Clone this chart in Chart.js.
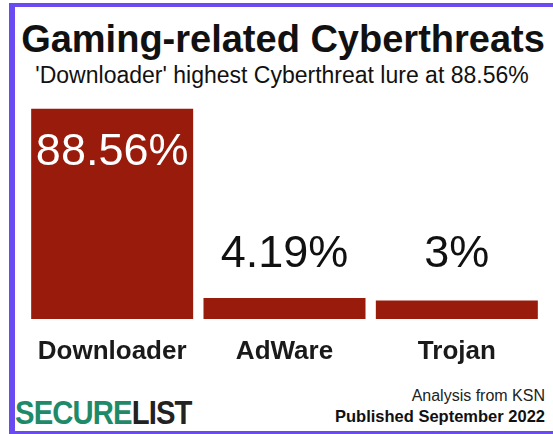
<!DOCTYPE html>
<html lang="en">
<head>
<meta charset="UTF-8">
<title>Gaming-related Cyberthreats</title>
<script src="https://cdn.jsdelivr.net/npm/chart.js"></script>
<style>
  html, body { margin: 0; padding: 0; background: #fff; }
  body { width: 553px; height: 434px; position: relative; overflow: hidden; font-family: 'Liberation Sans', Arial, sans-serif; color: #111; }
  #frame { position: absolute; left: 9px; top: 3px; width: 560px; height: 431px; box-sizing: border-box;
           border-left: 6px solid #6a4bf2; border-top: 4px solid #6a4bf2; border-bottom: 3px solid #6a4bf2; }
  .txt { position: absolute; white-space: nowrap; line-height: 1; }
  #title { left: 0; width: 566px; top: 20px; text-align: center; font-size: 38px; font-weight: bold; }
  #subtitle { left: 0; width: 564px; top: 64px; text-align: center; font-size: 23px; }
  #src { right: 8px; top: 388px; font-size: 16px; color: #222; }
  #pub { right: 8px; top: 408px; font-size: 16.5px; font-weight: bold; color: #111; }
  #logo { left: 15px; top: 395px; font-size: 34px; font-weight: bold; transform: scaleX(0.86); transform-origin: left top; letter-spacing: -1px; }
  #logo .g { color: #1f8a68; }
  #logo .k { color: #222; }
  #chart { position: absolute; left: 0; top: 92px; }
</style>
</head>
<body>
<div id="frame"></div>
<div class="txt" id="title">Gaming-related Cyberthreats</div>
<div class="txt" id="subtitle">'Downloader' highest Cyberthreat lure at 88.56%</div>
<canvas id="chart" width="553" height="287"></canvas>
<div class="txt" id="logo"><span class="g">SECURE</span><span class="k">LIST</span></div>
<div class="txt" id="src">Analysis from KSN</div>
<div class="txt" id="pub">Published September 2022</div>
<script>
// chart data
const categories = ['Downloader', 'AdWare', 'Trojan'];
const shares = [88.56, 4.19, 3];
const valueLabels = ['88.56%', '4.19%', '3%'];

// the original bars sit on a baseline below zero
const axisMin = -5.2;
const axisMax = 96;

const barLabels = {
    id: 'barLabels',
    afterDatasetsDraw(chart) {
        const ctx = chart.ctx;
        const meta = chart.getDatasetMeta(0);
        ctx.save();
        ctx.font = '45px "Liberation Sans", Arial, sans-serif';
        ctx.textAlign = 'center';
        ctx.textBaseline = 'alphabetic';
        meta.data.forEach((bar, i) => {
            const h = bar.base - bar.y;
            if (h > 60) {
                ctx.fillStyle = '#ffffff';
                ctx.fillText(valueLabels[i], bar.x, bar.y + 56);
            } else {
                ctx.fillStyle = '#111111';
                ctx.fillText(valueLabels[i], bar.x, 267 - 92);
            }
        });
        ctx.restore();
    }
};

new Chart(document.getElementById('chart'), {
    type: 'bar',
    data: {
        labels: categories,
        datasets: [{
            data: shares,
            base: axisMin,
            backgroundColor: '#981b0b',
            borderWidth: 0,
            barPercentage: 0.94,
            categoryPercentage: 1
        }]
    },
    options: {
        responsive: false,
        animation: false,
        layout: { padding: { left: 26, right: 10, top: 0, bottom: 0 } },
        plugins: {
            legend: { display: false },
            tooltip: { enabled: false }
        },
        scales: {
            y: { display: false, min: axisMin, max: axisMax },
            x: {
                grid: { display: false, drawTicks: false },
                border: { display: false },
                ticks: {
                    color: '#1a1a1a',
                    padding: 17,
                    font: { family: '"Liberation Sans", Arial, sans-serif', size: 26, weight: 'bold' }
                },
                afterFit(scale) { scale.height = 60; }
            }
        }
    },
    plugins: [barLabels]
});
</script>
</body>
</html>
